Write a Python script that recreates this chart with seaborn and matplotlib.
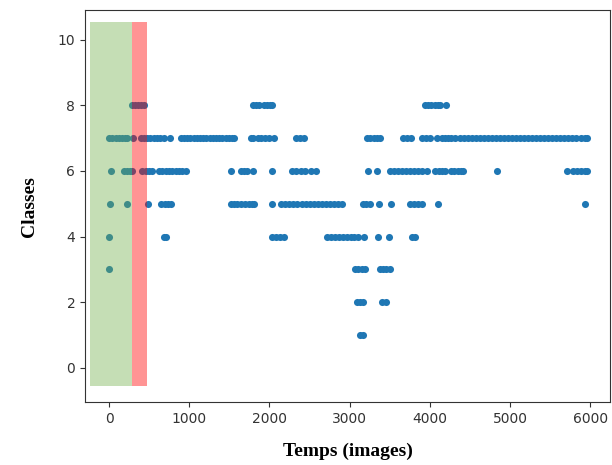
import matplotlib
matplotlib.use("Agg")
import matplotlib.pyplot as plt
import seaborn as sns
import numpy as np
import pandas as pd

# --- data: frame index (x) for each predicted class (y) ---
class_8 = [280, 320, 360, 400, 440, 1790, 1830, 1870, 1930, 1970, 2010, 2036,
           3940, 3980, 4020, 4060, 4100, 4128, 4203]
class_7 = [0, 40, 80, 120, 160, 200, 229, 303, 395, 435, 475, 515, 555, 595, 635, 686, 761,
           894, 934, 974, 1014, 1054, 1094, 1134, 1174, 1214, 1254, 1294, 1334, 1374, 1414,
           1454, 1494, 1534, 1559, 1767, 1800, 1860, 1900, 1950, 2000, 2058, 2330, 2380, 2430,
           3213, 3260, 3300, 3340, 3380, 3670, 3720, 3760, 3900, 3950, 4000, 4086,
           4150, 4190, 4230, 4270, 4315,
           4380, 4430, 4480, 4530, 4580, 4630, 4680, 4730, 4780, 4830, 4880, 4930, 4980,
           5030, 5080, 5130, 5180, 5230, 5280, 5330, 5380, 5430, 5480, 5530, 5580, 5630,
           5680, 5730, 5780, 5830, 5880, 5930, 5957]
class_6 = [21, 180, 220, 260, 290, 415, 460, 500, 540, 625, 665, 710, 750, 790, 830, 870,
           910, 956, 1517, 1640, 1680, 1724, 1790, 2029, 2286, 2330, 2390, 2440, 2515, 2578,
           3234, 3346, 3504, 3550, 3600, 3650, 3700, 3750, 3800, 3850, 3900, 3962,
           4065, 4110, 4150, 4190, 4260, 4300, 4350, 4390, 4418, 4842,
           5707, 5790, 5840, 5890, 5930, 5957]
class_5 = [12, 220, 486, 652, 700, 740, 777, 1517, 1560, 1600, 1640, 1700, 1740, 1780, 1808,
           2036, 2141, 2190, 2240, 2290, 2348, 2410, 2460, 2500, 2550, 2600, 2650, 2700,
           2750, 2800, 2850, 2900, 3171, 3210, 3255, 3371, 3513, 3753, 3800, 3850, 3899,
           4107, 5936]
class_4 = [0, 680, 715, 2036, 2080, 2130, 2182, 2722, 2770, 2820, 2870, 2920, 2970, 3020,
           3060, 3100, 3180, 3358, 3495, 3780, 3810]
class_3 = [0, 3070, 3110, 3150, 3190, 3380, 3420, 3460, 3500]
class_2 = [3090, 3130, 3170, 3400, 3460]
class_1 = [3130, 3165]

# highlighted intervals (frames) and their vertical extent (classes)
green_span = [-240, 290]
red_span = [290, 475]
span_y = [-0.55, 10.55]

xlim = [-300, 6250]
ylim = [-1.05, 10.9]

series = {8: class_8, 7: class_7, 6: class_6, 5: class_5,
          4: class_4, 3: class_3, 2: class_2, 1: class_1}
df = pd.DataFrame([(x, c) for c, xs in series.items() for x in xs],
                  columns=["frame", "classe"])

fig = plt.figure(figsize=(6.12, 4.65), dpi=100)
ax = fig.add_axes([0.139, 0.135, 0.858, 0.843])

sns.scatterplot(data=df, x="frame", y="classe", ax=ax, color="#1f77b4",
                s=26, linewidth=0, edgecolor=None, legend=False)
for coll in ax.collections:
    coll.set_zorder(2)

ax.fill_between(green_span, span_y[0], span_y[1], color="#70ad47", alpha=0.4,
                linewidth=0, zorder=3)
ax.fill_between(red_span, span_y[0], span_y[1], color="#ff0000", alpha=0.42,
                linewidth=0, zorder=3)

ax.set_xlim(xlim)
ax.set_ylim(ylim)
ax.set_xticks([0, 1000, 2000, 3000, 4000, 5000, 6000])
ax.set_yticks([0, 2, 4, 6, 8, 10])
ax.tick_params(labelsize=10, colors="#333333")
for sp in ax.spines.values():
    sp.set_color("#333333")

ax.set_xlabel("Temps (images)", fontsize=14, fontweight="bold",
              family="Liberation Serif", labelpad=12)
ax.set_ylabel("Classes", fontsize=14, fontweight="bold",
              family="Liberation Serif", labelpad=14)

fig.savefig("out.png", dpi=100)
